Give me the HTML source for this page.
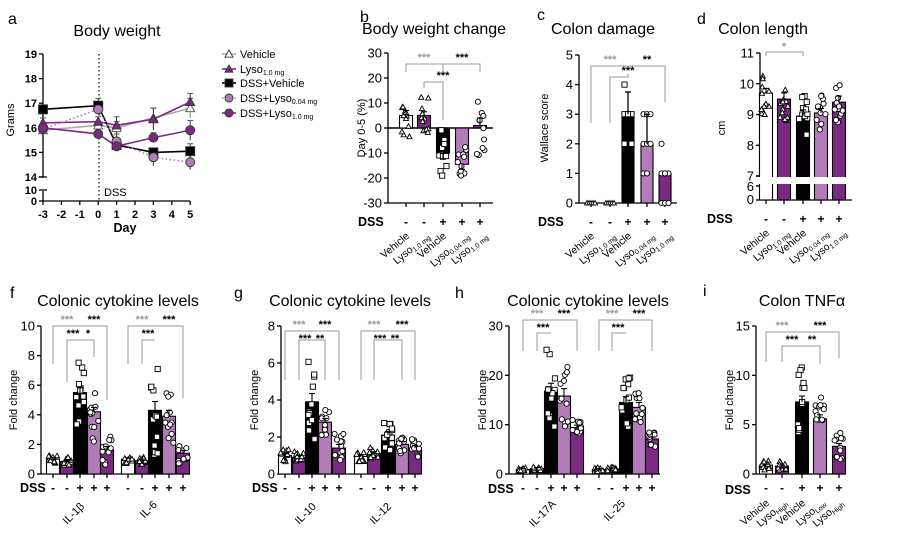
<!DOCTYPE html>
<html><head><meta charset="utf-8"><style>
html,body{margin:0;padding:0;background:#fff}
svg{display:block;font-family:"Liberation Sans",sans-serif}
.t{font-size:16px}
.lt{font-size:16px}
.tk{font-size:11px}
.b{font-weight:bold;font-size:12.5px}
</style></head><body>
<svg id="s" width="901" height="537" viewBox="0 0 901 537" xmlns="http://www.w3.org/2000/svg">
<text class="lt" x="8" y="24">a</text>
<text class="t" x="117" y="36" text-anchor="middle">Body weight</text>
<text class="lt" x="360" y="22">b</text>
<text class="t" x="434" y="34" text-anchor="middle">Body weight change</text>
<text class="lt" x="537" y="20">c</text>
<text class="t" x="603" y="34" text-anchor="middle">Colon damage</text>
<text class="lt" x="697" y="24">d</text>
<text class="t" x="763" y="34" text-anchor="middle">Colon length</text>
<text class="lt" x="10" y="298">f</text>
<text class="t" x="118" y="306" text-anchor="middle">Colonic cytokine levels</text>
<text class="lt" x="234" y="298">g</text>
<text class="t" x="350" y="306" text-anchor="middle">Colonic cytokine levels</text>
<text class="lt" x="455" y="298">h</text>
<text class="t" x="588" y="306" text-anchor="middle">Colonic cytokine levels</text>
<text class="lt" x="703" y="296">i</text>
<text class="t" x="802" y="306" text-anchor="middle">Colon TNFα</text>
<text class="tk" font-size="13" transform="translate(14,120) rotate(-90)" text-anchor="middle">Grams</text>
<text class="b" x="125" y="232" text-anchor="middle">Day</text>
<text class="tk" font-size="13" transform="translate(365,128) rotate(-90)" text-anchor="middle">Day 0-5 (%)</text>
<text class="tk" font-size="13" transform="translate(548,128) rotate(-90)" text-anchor="middle">Wallace score</text>
<text class="tk" font-size="13" transform="translate(725,128) rotate(-90)" text-anchor="middle">cm</text>
<text class="tk" font-size="13" transform="translate(17,400) rotate(-90)" text-anchor="middle">Fold change</text>
<text class="tk" font-size="13" transform="translate(258,400) rotate(-90)" text-anchor="middle">Fold change</text>
<text class="tk" font-size="13" transform="translate(486,400) rotate(-90)" text-anchor="middle">Fold change</text>
<text class="tk" font-size="13" transform="translate(733,400) rotate(-90)" text-anchor="middle">Fold change</text>
<text class="b" x="358" y="226">DSS</text>
<text class="b" x="538" y="226">DSS</text>
<text class="b" x="707" y="223">DSS</text>
<text class="b" x="20" y="492">DSS</text>
<text class="b" x="252" y="492">DSS</text>
<text class="b" x="488" y="493">DSS</text>
<text class="b" x="725" y="494">DSS</text>
<g class="tk" font-size="11.5">
<text x="240" y="58">Vehicle</text>
<text x="240" y="73">Lyso<tspan font-size="7" dy="2">1.0 mg</tspan></text>
<text x="240" y="87">DSS+Vehicle</text>
<text x="240" y="102">DSS+Lyso<tspan font-size="7" dy="2">0.04 mg</tspan></text>
<text x="240" y="117">DSS+Lyso<tspan font-size="7" dy="2">1.0 mg</tspan></text>
</g>
<text class="tk" font-size="12" x="104" y="196">DSS</text>
<g id="cats" class="tk" font-size="10"></g>
<g font-size="10.5" class="tk">
<text transform="translate(76,516) rotate(-45)" text-anchor="middle">IL-1β</text>
<text transform="translate(151,512) rotate(-45)" text-anchor="middle">IL-6</text>
<text transform="translate(308,516) rotate(-45)" text-anchor="middle">IL-10</text>
<text transform="translate(383,516) rotate(-45)" text-anchor="middle">IL-12</text>
<text transform="translate(545,516) rotate(-45)" text-anchor="middle">IL-17A</text>
<text transform="translate(617,513) rotate(-45)" text-anchor="middle">IL-25</text>
</g>
<g id="g"></g>
</svg>
<script>
var NS="http://www.w3.org/2000/svg",G=document.getElementById('g'),CATS=document.getElementById('cats');
function el(t,a,p){var e=document.createElementNS(NS,t);for(var k in a)e.setAttribute(k,a[k]);(p||G).appendChild(e);return e;}
function tx(x,y,s,a){var e=el('text',Object.assign({x:x,y:y,'font-size':11},a||{}));e.textContent=s;return e;}
function ln(x1,y1,x2,y2,c,w,d){var a={x1:x1,y1:y1,x2:x2,y2:y2,stroke:c||'#000','stroke-width':w||1.3};if(d)a['stroke-dasharray']=d;return el('line',a);}
var PU='#7b2a83',LP='#b27cb8';
var seed=7;function rnd(){seed=(seed*9301+49297)%233280;return seed/233280;}
function marker(type,x,y,r,fill,stroke){fill=fill||'#fff';stroke=stroke||'#000';
 if(type=='t')el('polygon',{points:(x)+','+(y-r)+' '+(x-r)+','+(y+r*0.8)+' '+(x+r)+','+(y+r*0.8),fill:fill,stroke:stroke,'stroke-width':0.9});
 else if(type=='s')el('rect',{x:x-r,y:y-r,width:2*r,height:2*r,fill:fill,stroke:stroke,'stroke-width':0.9});
 else el('circle',{cx:x,cy:y,r:r,fill:fill,stroke:stroke,'stroke-width':0.9});}
function yaxis(x,ticks,ym,lw){ticks.forEach(function(t){ln(x-4,ym(t),x,ym(t));tx(x-6,ym(t)+4.5,String(t),{'text-anchor':'end','font-size':lw||11});});}
var cols=['#fff',PU,'#000',LP,PU],mk=['t','t','s','c','c'];
function bars(xs,means,ym,spreads,n,errs){var y0=ym(0);
 xs.forEach(function(cx,i){var m=means[i],c=cols[i%5],yt=ym(m);
  el('rect',{x:cx-6.5,y:Math.min(yt,y0),width:13,height:Math.abs(y0-yt),fill:c,stroke:'#000','stroke-width':1.1});
  var sp=spreads[i],e=errs?errs[i]:sp*0.3;
  for(var k=0;k<(n||11);k++){var v=m+(rnd()*2-1)*sp;marker(mk[i%5],cx+(rnd()*2-1)*4.5,ym(v),2.6);}
  ln(cx,yt,cx,ym(m+(m>=0?e:-e)),'#000',1.1);ln(cx-3,ym(m+(m>=0?e:-e)),cx+3,ym(m+(m>=0?e:-e)),'#000',1.1);
 });}
function signs(xs,y,pat){xs.forEach(function(x,i){tx(x,y,pat[i%5],{'text-anchor':'middle','font-size':12,'font-weight':'bold'});});}
function br(x1,x2,y,yl,yr,col){col=col||'#999';el('polyline',{points:x1+','+yl+' '+x1+','+y+' '+x2+','+y+' '+x2+','+yr,fill:'none',stroke:col,'stroke-width':1});}
function star(x,y,s,c){tx(x,y,s,{'text-anchor':'middle','font-size':11,'font-weight':'bold',fill:c||'#000'});}
var PAT=['-','-','+','+','+'];

(function(){var ym=function(v){return 54+(19-v)*24.6;},xm=function(d){return 43+(d+3)*18.4;};
 ln(43,54,43,177);ln(43,191,43,201);ln(39,177,47,177,'#000',1.3);ln(39,190,47,190);
 [19,18,17,16,15,14].forEach(function(t){ln(39,ym(t),43,ym(t));tx(37,ym(t)+4,String(t),{'text-anchor':'end','font-size':11,'font-weight':'bold'});});
 tx(37,194,'10',{'text-anchor':'end','font-size':11,'font-weight':'bold'});tx(37,205,'0',{'text-anchor':'end','font-size':11,'font-weight':'bold'});
 ln(39,201,43,201);ln(43,201,190,201);
 for(var d=-3;d<=5;d++){ln(xm(d),201,xm(d),205);tx(xm(d),218,String(d),{'text-anchor':'middle','font-size':11,'font-weight':'bold'});}
 ln(99,54,99,201,'#000',1.2,'1.5,2.5');
 var days=[-3,0,1,3,5];
 var S=[{v:[15.9,16.1,16.0,16.4,16.8],c:'#aaa',m:'t',f:'#fff',d:null,e:[.1,.15,.25,.4,.4]},
  {v:[16.2,16.25,16.1,16.35,17.05],c:PU,m:'t',f:PU,d:null,e:[.2,.2,.35,.45,.35]},
  {v:[16.75,16.9,15.3,15.0,15.05],c:'#000',m:'s',f:'#000',d:null,e:[.15,.3,.2,.15,.3]},
  {v:[15.95,16.75,15.45,14.8,14.6],c:LP,m:'c',f:LP,d:'1.5,2.5',e:[.15,.2,.3,.35,.3]},
  {v:[16.0,15.75,15.25,15.6,15.9],c:PU,m:'c',f:PU,d:null,e:[.15,.2,.2,.2,.4]}];
 S.forEach(function(s){var p=days.map(function(d,i){return xm(d)+','+ym(s.v[i]);}).join(' ');
  var a={points:p,fill:'none',stroke:s.c,'stroke-width':1.6};if(s.d)a['stroke-dasharray']=s.d;el('polyline',a);
  days.forEach(function(d,i){var x=xm(d);ln(x,ym(s.v[i]+s.e[i]),x,ym(s.v[i]-s.e[i]),s.c=='#aaa'?'#888':'#333',1);ln(x-3,ym(s.v[i]+s.e[i]),x+3,ym(s.v[i]+s.e[i]),'#555',1);});});
 S.forEach(function(s){days.forEach(function(d,i){marker(s.m,xm(d),ym(s.v[i]),4.5,s.f,s.m=='t'&&s.f=='#fff'?'#555':'#333');});});
 var L=[[54,'#aaa','t','#fff',null],[69,PU,'t',PU,null],[83,'#000','s','#000',null],[98,LP,'c',LP,'1.5,2.5'],[113,PU,'c',PU,null]];
 L.forEach(function(l){var a={x1:222,y1:l[0],x2:236,y2:l[0],stroke:l[1],'stroke-width':1.6};if(l[4])a['stroke-dasharray']=l[4];el('line',a);marker(l[2],229,l[0],4,l[3],'#333');});
})();

(function(){var ym=function(v){return 128-v*2.5;},xs=[406,424,443,462,480];
 ln(388,53,388,203);yaxis(388,[30,20,10,0,-10,-20,-30],ym,13);ln(388,203,493,203);xs.forEach(function(x){ln(x,203,x,207);});
 ln(388,128,493,128,'#000',1.5);
 bars(xs,[5,5,-10,-14.5,1],ym,[10,8,10,8,12],11,[2,1.5,2.5,2,3]);
 signs(xs,226,PAT);
 br(406,443,64,72,72);br(443,480,64,72,72);br(424,443,82,88,120);
 star(424,61,'***','#999');star(462,61,'***');star(443,79,'***');
})();

(function(){var ym=function(v){return 203-v*29.6;},xs=[591,610,628,647,665];
 ln(579,55,579,203);yaxis(579,[5,4,3,2,1,0],ym,13);ln(579,203,677,203);xs.forEach(function(x){ln(x,203,x,207);});
 [0,1].forEach(function(i){for(var k=0;k<5;k++)marker('t',xs[i]-4+k*2,ym(0),2.4);});
 var means=[0.02,0.02,3,2,1];
 for(var i=2;i<5;i++){var cx=xs[i],yt=ym(means[i]);el('rect',{x:cx-6,y:yt,width:12,height:203-yt,fill:cols[i],stroke:'#000','stroke-width':1.1});}
 var pts={2:[4,3,3,3,3,2,2],3:[3,3,3,2,2,2,1,1],4:[2,1,1,1,1,0,0,0,0]};
 for(var i=2;i<5;i++){pts[i].forEach(function(v,k){marker(mk[i],xs[i]+((k%3)-1)*3.5,ym(v),2.6);});}
 ln(628,ym(3),628,ym(3.75));ln(625,ym(3.75),631,ym(3.75));ln(647,ym(2),647,ym(3));ln(644,ym(3),650,ym(3));
 signs(xs,226,PAT);
 br(591,665,66,123,102);br(610,628,77,123,74);
 star(610,63,'***','#999');star(647,63,'**');star(628,74,'***');
})();

(function(){var ym=function(v){return v>=7?176-(v-7)*30.75:200-v*2;},xs=[766,784,803,821,839];
 ln(760,53,760,176);ln(760,185,760,200);ln(756,176,763,176,'#000',1.5);ln(756,186,763,186,'#000',1.5);
 [11,10,9,8,7].forEach(function(t){ln(756,ym(t),760,ym(t));tx(754,ym(t)+4.5,String(t),{'text-anchor':'end','font-size':13});});
 tx(754,191,'6',{'text-anchor':'end','font-size':13});tx(754,204,'0',{'text-anchor':'end','font-size':13});ln(756,200,760,200);
 ln(760,200,852,200);xs.forEach(function(x){ln(x,200,x,204);});
 bars(xs,[9.7,9.5,8.95,9.05,9.4],ym,[0.8,0.7,0.8,0.6,0.7],12,[0.15,0.2,0.2,0.15,0.2]);
 el('rect',{x:756,y:177,width:100,height:7,fill:'#fff'});
 signs(xs,223,PAT);
 br(766,803,52,56,56);star(784,50,'*','#999');
})();

function cat(x,y,main,sub){var e=el('text',{transform:'translate('+x+','+y+') rotate(-40)','text-anchor':'end','font-size':10.5},CATS);e.textContent=main;
 if(sub){var t=document.createElementNS(NS,'tspan');t.setAttribute('font-size','7');t.setAttribute('dy','2');t.textContent=sub;e.appendChild(t);}}
[[406,424,443,462,480],[591,610,628,647,665],[766,784,803,821,839]].forEach(function(xs,j){var y=j==2?234:237;
 cat(xs[0]+4,y,'Vehicle');cat(xs[1]+6,y,'Lyso','1.0 mg');cat(xs[2]+4,y,'Vehicle');cat(xs[3]+8,y,'Lyso','0.04 mg');cat(xs[4]+8,y,'Lyso','1.0 mg');});
cat(770,504,'Vehicle');cat(788,504,'Lyso','High');cat(806,504,'Vehicle');cat(826,504,'Lyso','Low');cat(844,504,'Lyso','High');

function bottom(ax,xend,max,step,xs,means,spreads,errs,brs){var ym=function(v){return 474-v*148/max;};
 ln(ax,326,ax,474);var t=[];for(var v=0;v<=max;v+=step)t.push(v);yaxis(ax,t,ym,13);ln(ax,474,xend,474);xs.forEach(function(x){ln(x,474,x,478);});
 bars(xs,means,ym,spreads,12,errs);signs(xs,492,PAT);
 (brs||[]).forEach(function(b){br(b[0],b[1],b[2],b[3],b[4],'#999');});}
bottom(41,190,10,2,[53,67,80,94,107,128,142,155,169,183],[1,0.85,5.5,4.2,1.6,1,0.9,4.3,3.9,1.4],[0.3,0.3,2.6,2,1,0.3,0.3,3,1.8,0.7],[.1,.1,.35,.3,.25,.1,.1,.6,.4,.2],
 [[53,107,326,364,400],[67,94,340,382,357],[128,183,326,364,398],[142,155,340,364,340]]);
star(67,323,'***','#999');star(94,323,'***');star(73,337,'***');star(88,337,'*');star(142,323,'***','#999');star(169,323,'***');star(148,337,'***');
bottom(281,420,8,2,[285,299,312,325,339,361,374,388,402,415],[1,0.9,3.9,2.8,1.4,0.95,1.1,2.1,1.6,1.4],[0.35,0.35,2.2,0.8,0.8,0.35,0.35,1,0.5,0.5],[.1,.1,.45,.2,.2,.1,.1,.2,.15,.15],
 [[285,339,331,380,380],[299,325,340,380,380],[361,415,331,380,380],[374,388,340,380,340],[388,402,340,340,380]]);
star(299,328,'***','#999');star(325,328,'***');star(305,342,'***');star(320,342,'**');star(374,328,'***','#999');star(402,328,'***');star(380,342,'***');star(395,342,'**');
bottom(509,660,30,10,[523,537,551,564,577,599,612,626,639,652],[0.9,1.1,16.8,15.8,9.4,0.9,1,14.5,13.5,7.1],[0.4,0.4,9,6.5,1.6,0.4,0.4,6,3,1.6],[.2,.2,1.6,1.5,.5,.2,.2,1.2,1,.4],
 [[523,577,320,351,351],[537,551,333,351,333],[599,652,320,351,351],[612,626,333,351,333]]);
star(537,317,'***','#999');star(564,317,'***');star(543,331,'***');star(612,317,'***','#999');star(639,317,'***');star(618,331,'***');
bottom(756,845,15,5,[766,782,802,820,839],[0.9,0.8,7.3,5.6,2.8],[0.5,0.5,3.6,2.3,1.4],[.1,.1,.6,.4,.3],
 [[766,839,332,362,358],[782,820,346,362,364]]);
star(782,329,'***','#999');star(820,329,'***');star(792,343,'***');star(812,343,'**');
</script>
</body></html>
